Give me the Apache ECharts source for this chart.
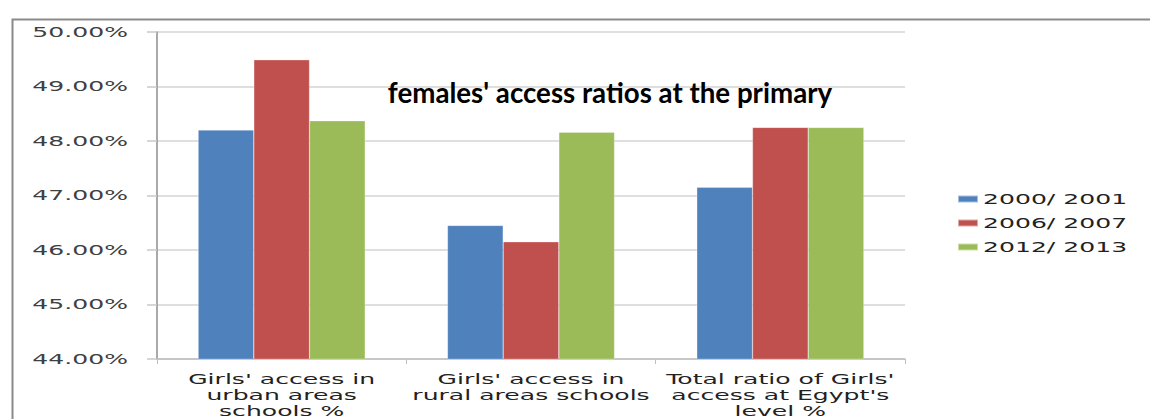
<!DOCTYPE html>
<html>
<head>
<meta charset="utf-8">
<script src="https://cdn.jsdelivr.net/npm/echarts@6/dist/echarts.min.js"></script>
<style>
html,body{margin:0;padding:0;background:#fff;overflow:hidden;}
#chart{width:1150px;height:419px;overflow:hidden;}
#chart svg{display:block;}
</style>
</head>
<body>
<div id="chart"></div>
<script>
var categories = ["Girls' access in\nurban areas\nschools %", "Girls' access in\nrural areas schools", "Total ratio of Girls'\naccess at Egypt's\nlevel %"];
var seriesNames = ['2000/ 2001', '2006/ 2007', '2012/ 2013'];
var values2000 = [48.20, 46.45, 47.15];
var values2006 = [49.49, 46.15, 48.25];
var values2012 = [48.37, 48.16, 48.25];
var yMin = 44, yMax = 50, yStep = 1;
var titleText = "females' access ratios at the primary";

var colors = ['#4F81BD', '#C0504D', '#9BBB59'];
var seriesValues = [values2000, values2006, values2012];
var TEXT_STRETCH = 1.86; // the reference's labels are horizontally stretched

var chart = echarts.init(document.getElementById('chart'), null, {renderer: 'svg'});
var labelFont = 'DejaVu Sans';
var labelSize = 13.5;
chart.setOption({
  animation: false,
  backgroundColor: '#fff',
  color: colors,
  title: {
    text: titleText,
    left: 605, top: 73, textAlign: 'center',
    textStyle: {fontFamily: 'Lato', fontWeight: 'bold', fontSize: 27.7, color: '#000'}
  },
  graphic: [{
    type: 'rect', left: 10, top: 17, silent: true,
    shape: {x: 0, y: 0, width: 1200, height: 500},
    style: {fill: 'none', stroke: '#8a8a8a', lineWidth: 2}
  }],
  legend: {
    orient: 'vertical', left: 957, top: 191, padding: 0,
    icon: 'rect', itemWidth: 20, itemHeight: 7, itemGap: 8,
    data: seriesNames,
    textStyle: {fontFamily: labelFont, fontSize: labelSize, color: '#222', lineHeight: 16}
  },
  grid: {left: 157, right: 245, top: 32, bottom: 57, containLabel: false},
  xAxis: {
    type: 'category', data: categories,
    axisLine: {lineStyle: {color: '#bfbfbf', width: 1.5}},
    axisTick: {show: true, length: 5, lineStyle: {color: '#bfbfbf'}},
    axisLabel: {interval: 0, margin: 12, fontFamily: labelFont, fontSize: labelSize, lineHeight: 16, color: '#222'}
  },
  yAxis: {
    type: 'value', min: yMin, max: yMax, interval: yStep,
    axisLine: {show: true, lineStyle: {color: '#8c8c8c', width: 1.5}},
    axisTick: {show: true, inside: false, length: 10, lineStyle: {color: '#c8c8c8', width: 1.5}},
    splitLine: {lineStyle: {color: '#d4d4d4', width: 1.5}},
    axisLabel: {margin: 29, fontFamily: labelFont, fontSize: labelSize, color: '#404040',
      formatter: function (v) { return v.toFixed(2) + '%'; }}
  },
  series: seriesNames.map(function (name, i) {
    return {
      name: name, type: 'bar', data: seriesValues[i],
      barGap: '0%', barCategoryGap: '33%',
      itemStyle: {color: colors[i], borderColor: 'rgba(255,255,255,0.5)', borderWidth: 0.5}
    };
  })
});

function stretchLabels() {
  var texts = document.querySelectorAll('#chart svg text');
  for (var i = 0; i < texts.length; i++) {
    var t = texts[i];
    if (t.getAttribute('data-st')) continue;
    if ((t.getAttribute('style') || '').indexOf('bold') >= 0) continue;
    var x = parseFloat(t.getAttribute('x') || 0), y = parseFloat(t.getAttribute('y') || 0);
    var tr = t.getAttribute('transform') || '';
    t.setAttribute('transform', tr + ' translate(' + x + ' ' + y + ') scale(' + TEXT_STRETCH + ' 1) translate(' + (-x) + ' ' + (-y) + ')');
    t.setAttribute('data-st', '1');
  }
}
stretchLabels();
chart.on('finished', stretchLabels);
</script>
</body>
</html>
